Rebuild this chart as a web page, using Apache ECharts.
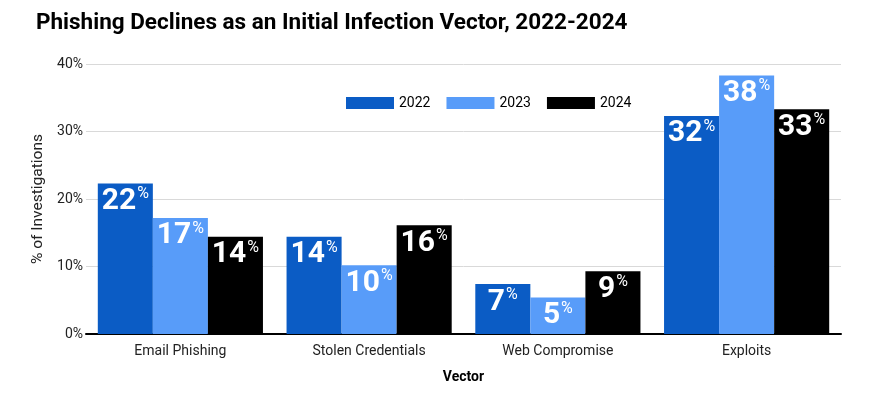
<!DOCTYPE html>
<html>
<head>
    <meta charset="utf-8">
    <title>Phishing Declines</title>
    <script src="https://cdn.jsdelivr.net/npm/echarts@6/dist/echarts.min.js"></script>
    <style>
        html, body { margin: 0; padding: 0; background: #fff; }
        #chart { width: 870px; height: 396px; }
    </style>
</head>
<body>
    <div id="chart"></div>
    <script>
        var vectors = ['Email Phishing', 'Stolen Credentials', 'Web Compromise', 'Exploits'];
        var years = ['2022', '2023', '2024'];
        // shares (labels are rounded)
        var v2022 = [22.3, 14.4, 7.4, 32.3];
        var v2023 = [17.2, 10.2, 5.4, 38.3];
        var v2024 = [14.4, 16.1, 9.3, 33.3];
        var yTicks = [0, 10, 20, 30, 40];

        var colors = ['#0b5cc5', '#589cf9', '#000000'];
        var font = 'Roboto';

        function barSeries(name, values, color) {
            return {
                name: name,
                type: 'bar',
                data: values,
                barGap: 0,
                barCategoryGap: '12.5%',
                itemStyle: { color: color },
                label: {
                    show: true,
                    position: 'insideTop',
                    distance: 3,
                    formatter: function (p) { return '{n|' + Math.round(p.value) + '}{p|%}'; },
                    rich: {
                        n: { color: '#fff', fontSize: 30, fontWeight: 'bold', fontFamily: font },
                        p: { color: '#fff', fontSize: 16, fontFamily: font, verticalAlign: 'top', padding: [0, 0, 0, 1] }
                    }
                }
            };
        }

        var myChart = echarts.init(document.getElementById('chart'));
        var option = {
            animation: false,
            title: {
                text: 'Phishing Declines as an Initial Infection Vector, 2022-2024',
                left: 31,
                top: 7,
                textStyle: { fontFamily: font, fontSize: 22.5, fontWeight: 'bold', color: '#000' }
            },
            legend: {
                data: years,
                left: 341,
                top: 91,
                itemWidth: 48,
                itemHeight: 12,
                itemGap: 16,
                icon: 'rect',
                textStyle: { fontFamily: font, fontSize: 14, color: '#000' }
            },
            grid: { left: 86, right: 29, top: 64, bottom: 62 },
            xAxis: {
                type: 'category',
                data: vectors,
                name: 'Vector',
                nameLocation: 'middle',
                nameGap: 36,
                nameTextStyle: { fontFamily: font, fontSize: 14, fontWeight: 'bold', color: '#000' },
                axisLine: { lineStyle: { color: '#000', width: 2 } },
                axisTick: { show: false },
                axisLabel: { fontFamily: font, fontSize: 14, color: '#222', margin: 10 }
            },
            yAxis: {
                type: 'value',
                min: yTicks[0],
                max: yTicks[yTicks.length - 1],
                interval: 10,
                name: '% of Investigations',
                nameLocation: 'middle',
                nameGap: 30,
                nameTextStyle: { fontFamily: font, fontSize: 15.5, color: '#222' },
                axisLine: { show: false },
                axisTick: { show: false },
                axisLabel: { fontFamily: font, fontSize: 14, color: '#222', formatter: '{value}%', margin: 3 },
                splitLine: { lineStyle: { color: '#d9d9d9' } }
            },
            series: [
                barSeries(years[0], v2022, colors[0]),
                barSeries(years[1], v2023, colors[1]),
                barSeries(years[2], v2024, colors[2])
            ]
        };
        myChart.setOption(option);
    </script>
</body>
</html>
